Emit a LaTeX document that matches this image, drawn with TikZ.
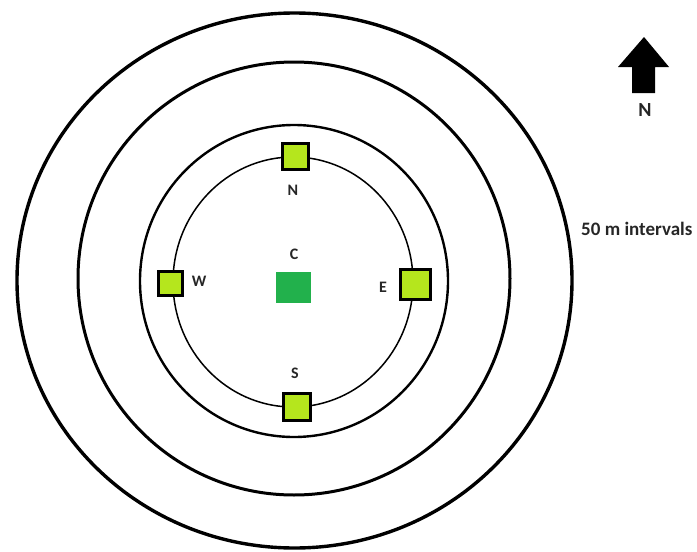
\documentclass[tikz,border=0pt]{standalone}
\usepackage{fontspec}
\setmainfont{Carlito}
\definecolor{plotlime}{HTML}{B5E61D}
\definecolor{plotgreen}{HTML}{22B14C}

\begin{document}
\begin{tikzpicture}[x=1pt, y=-1pt,
        ring/.style={draw, line width=#1},
        station/.style={draw, line width=3pt, fill=plotlime, minimum size=#1, inner sep=0pt},
        centre/.style={fill=plotgreen, minimum width=35pt, minimum height=31pt, inner sep=0pt},
        lbl/.style={font=\fontsize{16}{18}\selectfont\bfseries, text=black!85, inner sep=0pt}
    ]
        \useasboundingbox (0,0) rectangle (697,552);

        \draw[ring=3.4pt] (294.5,280.5) ellipse [x radius=277.5, y radius=267.5];
        \draw[ring=3pt] (294,278.5) ellipse [x radius=216, y radius=216.5];
        \draw[ring=2.4pt] (294,281) ellipse [x radius=154, y radius=156];
        \draw[ring=1.5pt] (293,282) ellipse [x radius=120, y radius=125];

        \node[centre] (c) at (293.5,287.5) {};
        \node[station=26pt] (n) at (295.5,156.5) {};
        \node[station=24pt] (w) at (170,283) {};
        \node[station=30pt] (e) at (415,284) {};
        \node[station=27pt] (s) at (297,407) {};

        \node[lbl] (clbl) at (294,254) {C};
        \node[lbl] (nlbl) at (293,190) {N};
        \node[lbl] (wlbl) at (199,281) {W};
        \node[lbl] (elbl) at (383,287) {E};
        \node[lbl] (slbl) at (295,373) {S};

        % north arrow
        \fill (644,37) -- (669,67) -- (655,67) -- (655,93) -- (632,93) -- (632,67) -- (618,67) -- cycle;
        \node[lbl, font=\fontsize{20}{22}\selectfont\bfseries] (north) at (645,110) {N};
        \node[lbl, anchor=west, font=\fontsize{19}{21}\selectfont\bfseries] (scale) at (581,229) {50 m intervals};
    \end{tikzpicture}
\end{document}
